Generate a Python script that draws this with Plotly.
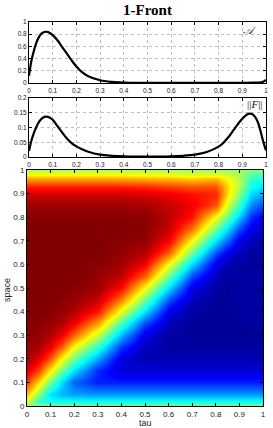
import numpy as np
import plotly.graph_objects as go

# ---------------- data ----------------
tau_A = [0, 0.01, 0.02, 0.03, 0.04, 0.05, 0.06, 0.07, 0.08, 0.09, 0.1, 0.12, 0.14, 0.16,
         0.18, 0.2, 0.22, 0.25, 0.3, 0.35, 0.4, 0.5, 0.6, 0.7, 0.8, 0.9, 0.95, 0.98, 0.99, 1.0]
A_vals = [0.12, 0.36, 0.52, 0.65, 0.74, 0.8, 0.83, 0.84, 0.835, 0.815, 0.785, 0.7, 0.59, 0.48,
          0.37, 0.27, 0.19, 0.11, 0.045, 0.018, 0.008, 0.004, 0.003, 0.003, 0.003, 0.004, 0.006,
          0.012, 0.025, 0.05]

tau_F = [0, 0.01, 0.02, 0.03, 0.04, 0.05, 0.06, 0.07, 0.08, 0.09, 0.1, 0.12, 0.14, 0.16, 0.18,
         0.2, 0.22, 0.25, 0.3, 0.35, 0.4, 0.5, 0.6, 0.65, 0.7, 0.75, 0.8, 0.82, 0.84, 0.86, 0.88,
         0.9, 0.92, 0.93, 0.94, 0.95, 0.96, 0.97, 0.98, 0.99, 1.0]
F_vals = [0.02, 0.055, 0.08, 0.1, 0.116, 0.127, 0.134, 0.137, 0.136, 0.132, 0.126, 0.105, 0.083,
          0.063, 0.047, 0.036, 0.028, 0.018, 0.008, 0.004, 0.002, 0.001, 0.002, 0.004, 0.008,
          0.017, 0.035, 0.048, 0.066, 0.088, 0.11, 0.13, 0.144, 0.147, 0.146, 0.14, 0.128, 0.108,
          0.078, 0.048, 0.022]

tau_grid = [0, 0.05, 0.1, 0.15, 0.2, 0.3, 0.4, 0.5, 0.6, 0.7, 0.8, 0.85, 0.9, 0.95, 1.0]
space_grid = [0, 0.02, 0.05, 0.1, 0.15, 0.2, 0.25, 0.3, 0.35, 0.4, 0.45, 0.5, 0.55, 0.6, 0.65,
              0.7, 0.75, 0.8, 0.85, 0.9, 0.93, 0.96, 0.98, 1.0]

# one list per tau column, values listed from space=0 up to space=1
u_cols = [
    [0.5, 0.6, 0.69, 0.82, 0.91, 0.96, 0.98, 0.99, 1, 1, 1, 1, 1, 1, 1, 1, 1, 0.99, 0.97, 0.92, 0.85, 0.72, 0.63, 0.55],
    [0.5, 0.42, 0.51, 0.66, 0.80, 0.90, 0.96, 0.98, 0.99, 1, 1, 1, 1, 1, 1, 1, 1, 0.99, 0.97, 0.92, 0.85, 0.72, 0.63, 0.55],
    [0.5, 0.38, 0.34, 0.48, 0.62, 0.78, 0.89, 0.95, 0.98, 0.99, 1, 1, 1, 1, 1, 1, 1, 0.99, 0.97, 0.92, 0.85, 0.72, 0.63, 0.55],
    [0.5, 0.38, 0.3, 0.34, 0.48, 0.62, 0.78, 0.89, 0.95, 0.98, 0.99, 1, 1, 1, 1, 1, 1, 0.99, 0.97, 0.92, 0.85, 0.72, 0.63, 0.55],
    [0.5, 0.38, 0.28, 0.22, 0.34, 0.48, 0.62, 0.78, 0.89, 0.95, 0.98, 0.99, 1, 1, 1, 1, 1, 0.99, 0.97, 0.92, 0.85, 0.72, 0.63, 0.55],
    [0.5, 0.38, 0.27, 0.15, 0.16, 0.28, 0.42, 0.57, 0.72, 0.85, 0.93, 0.97, 0.98, 0.99, 1, 1, 1, 0.99, 0.97, 0.92, 0.85, 0.72, 0.63, 0.55],
    [0.5, 0.38, 0.27, 0.15, 0.08, 0.09, 0.18, 0.31, 0.45, 0.6, 0.75, 0.87, 0.94, 0.97, 0.98, 0.99, 1, 0.99, 0.97, 0.92, 0.85, 0.72, 0.63, 0.55],
    [0.5, 0.38, 0.27, 0.15, 0.08, 0.04, 0.05, 0.1, 0.2, 0.34, 0.48, 0.62, 0.78, 0.89, 0.95, 0.98, 0.99, 0.99, 0.96, 0.91, 0.84, 0.71, 0.62, 0.55],
    [0.5, 0.38, 0.27, 0.15, 0.08, 0.04, 0.02, 0.02, 0.05, 0.1, 0.2, 0.34, 0.48, 0.62, 0.78, 0.88, 0.93, 0.94, 0.93, 0.89, 0.82, 0.7, 0.62, 0.55],
    [0.5, 0.38, 0.27, 0.15, 0.08, 0.04, 0.02, 0.01, 0.01, 0.02, 0.05, 0.1, 0.2, 0.34, 0.48, 0.62, 0.76, 0.86, 0.89, 0.86, 0.8, 0.68, 0.6, 0.54],
    [0.5, 0.38, 0.27, 0.15, 0.08, 0.04, 0.02, 0.01, 0.01, 0.01, 0.01, 0.02, 0.05, 0.1, 0.2, 0.34, 0.48, 0.62, 0.8, 0.84, 0.8, 0.7, 0.6, 0.54],
    [0.5, 0.38, 0.27, 0.15, 0.08, 0.04, 0.02, 0.01, 0.01, 0.01, 0.01, 0.01, 0.02, 0.04, 0.1, 0.22, 0.34, 0.47, 0.58, 0.65, 0.66, 0.62, 0.58, 0.53],
    [0.5, 0.38, 0.27, 0.15, 0.08, 0.04, 0.02, 0.01, 0.01, 0.02, 0.02, 0.02, 0.02, 0.02, 0.05, 0.1, 0.2, 0.33, 0.44, 0.51, 0.55, 0.56, 0.54, 0.52],
    [0.5, 0.38, 0.27, 0.15, 0.08, 0.04, 0.02, 0.01, 0.02, 0.02, 0.02, 0.02, 0.02, 0.02, 0.02, 0.05, 0.1, 0.17, 0.26, 0.34, 0.39, 0.42, 0.46, 0.5],
    [0.5, 0.38, 0.27, 0.15, 0.08, 0.04, 0.02, 0.01, 0.02, 0.02, 0.02, 0.02, 0.02, 0.02, 0.02, 0.03, 0.06, 0.11, 0.2, 0.29, 0.35, 0.4, 0.44, 0.5],
]

tick01 = [0, 0.1, 0.2, 0.3, 0.4, 0.5, 0.6, 0.7, 0.8, 0.9, 1]
tick01_text = ["0", "0.1", "0.2", "0.3", "0.4", "0.5", "0.6", "0.7", "0.8", "0.9", "1"]
A_ticks = [0, 0.2, 0.4, 0.6, 0.8, 1]
A_ticktext = ["0", "0.2", "0.4", "0.6", "0.8", "1"]
F_ticks = [0, 0.05, 0.1, 0.15, 0.2]
F_ticktext = ["0", "0.05", "0.1", "0.15", "0.2"]

# ---------------- figure ----------------
W, H = 273, 428
jet = [[0, "rgb(0,0,143)"], [0.125, "rgb(0,0,255)"], [0.375, "rgb(0,255,255)"],
       [0.625, "rgb(255,255,0)"], [0.875, "rgb(255,0,0)"], [1, "rgb(128,0,0)"]]

z = np.array(u_cols).T

fig = go.Figure()
fig.add_trace(go.Scatter(x=tau_A, y=A_vals, mode="lines", line=dict(color="black", width=2.2),
                         line_shape="spline", xaxis="x", yaxis="y", showlegend=False))
fig.add_trace(go.Scatter(x=tau_F, y=F_vals, mode="lines", line=dict(color="black", width=2.2),
                         line_shape="spline", xaxis="x2", yaxis="y2", showlegend=False))
fig.add_trace(go.Heatmap(x=tau_grid, y=space_grid, z=z, colorscale=jet, zmin=0, zmax=1,
                         zsmooth="best", showscale=False, xaxis="x3", yaxis="y3"))

def px_x(a, b):
    return [a / W, b / W]

def px_y(top, bottom):
    return [1 - bottom / H, 1 - top / H]

tickfont_small = dict(family="Liberation Sans, Arial", size=6.5, color="#222")
tickfont_hm = dict(family="Liberation Sans, Arial", size=8, color="#222")

base_axis = dict(showline=True, linecolor="black", linewidth=1, mirror="ticks",
                 ticks="inside", ticklen=3, tickcolor="black", zeroline=False,
                 automargin=False, ticklabeloverflow="allow")
line_axis = dict(showgrid=True, gridcolor="#bdbdbd", griddash="dot", gridwidth=0.6, **base_axis)
hm_axis = dict(showgrid=False, **base_axis)

fig.update_layout(
    width=W, height=H, margin=dict(l=0, r=0, t=0, b=0),
    paper_bgcolor="white", plot_bgcolor="white",
    xaxis=dict(domain=px_x(29, 266), range=[0, 1], tickvals=tick01, ticktext=tick01_text,
               tickfont=tickfont_small, anchor="y", ticklabelstandoff=1, **line_axis),
    yaxis=dict(domain=px_y(22, 83), range=[0, 1], tickvals=A_ticks, ticktext=A_ticktext,
               tickfont=tickfont_small, anchor="x", **line_axis),
    xaxis2=dict(domain=px_x(29, 266), range=[0, 1], tickvals=tick01, ticktext=tick01_text,
                tickfont=tickfont_small, anchor="y2", ticklabelstandoff=1, **line_axis),
    yaxis2=dict(domain=px_y(98, 157), range=[0, 0.2], tickvals=F_ticks, ticktext=F_ticktext,
                tickfont=tickfont_small, anchor="x2", **line_axis),
    xaxis3=dict(domain=px_x(27, 263), range=[0, 1], tickvals=tick01, ticktext=tick01_text,
                tickfont=tickfont_hm, anchor="y3", ticklabelstandoff=0, **hm_axis),
    yaxis3=dict(domain=px_y(170, 406), range=[0, 1], tickvals=tick01, ticktext=tick01_text,
                tickfont=tickfont_hm, anchor="x3", **hm_axis),
    annotations=[
        dict(text="<b>1-Front</b>", x=147.5 / W, y=1 - 10 / H, xref="paper", yref="paper",
             showarrow=False, font=dict(family="Liberation Serif, Times New Roman", size=15, color="black"),
             xanchor="center", yanchor="middle"),
        dict(text="<i>𝒜</i>", x=250 / W, y=1 - 31 / H, xref="paper", yref="paper",
             showarrow=False, font=dict(family="DejaVu Serif, Liberation Serif", size=11, color="#333"),
             xanchor="center", yanchor="middle"),
        dict(text="||<i>F</i>||", x=265 / W, y=1 - 104 / H, xref="paper", yref="paper",
             showarrow=False, font=dict(family="Liberation Serif, DejaVu Serif", size=11, color="#111"),
             xanchor="right", yanchor="middle"),
        dict(text="tau", x=145 / W, y=1 - 423 / H, xref="paper", yref="paper",
             showarrow=False, font=dict(family="Liberation Sans, Arial", size=9, color="#222"),
             xanchor="center", yanchor="middle"),
        dict(text="space", x=7 / W, y=1 - 290 / H, xref="paper", yref="paper", textangle=-90,
             showarrow=False, font=dict(family="Liberation Sans, Arial", size=9, color="#222"),
             xanchor="center", yanchor="middle"),
    ],
)

fig.write_html("out.html", config={"displayModeBar": False},
               post_script="document.body.style.margin='0';document.body.style.padding='0';")
